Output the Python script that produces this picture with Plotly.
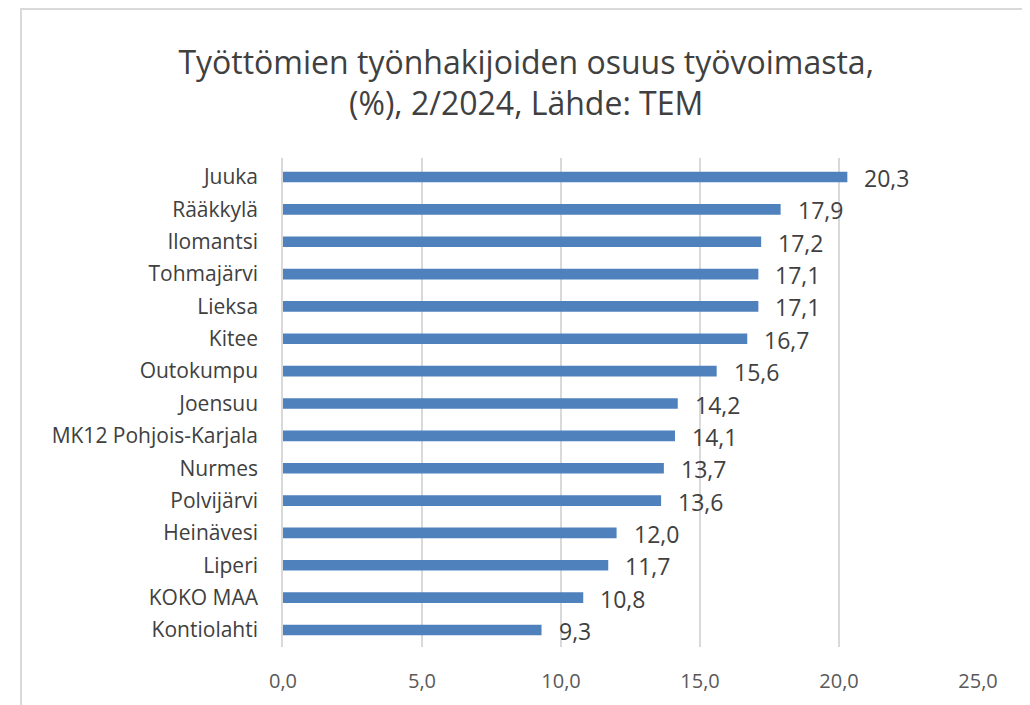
import plotly.graph_objects as go

# data
kunnat = ["Juuka", "Rääkkylä", "Ilomantsi", "Tohmajärvi", "Lieksa", "Kitee",
          "Outokumpu", "Joensuu", "MK12 Pohjois-Karjala", "Nurmes", "Polvijärvi",
          "Heinävesi", "Liperi", "KOKO MAA", "Kontiolahti"]
osuus = [20.3, 17.9, 17.2, 17.1, 17.1, 16.7, 15.6, 14.2, 14.1, 13.7, 13.6,
         12.0, 11.7, 10.8, 9.3]
x_ticks = [0, 5, 10, 15, 20, 25]

FONT = "Open Sans"

fig = go.Figure(go.Bar(
    x=osuus, y=kunnat, orientation="h",
    marker=dict(color="#4f81bd", line=dict(width=0)),
    width=0.33,
    hoverinfo="x+y",
))

# value labels a bit away from bar ends
for k, v in zip(kunnat, osuus):
    fig.add_annotation(
        x=v, y=k, text=f"{v:.1f}".replace(".", ","),
        showarrow=False, xanchor="left", xshift=15, yshift=-1,
        font=dict(family=FONT, size=23, color="#404040"),
    )

# page body has ~8px margin, so the figure starts at (8, 8)
W, H = 1022, 697
L, R, T, B = 275, 52, 150, 58
pw, ph = W - L - R, H - T - B

fig.update_layout(
    width=W, height=H,
    paper_bgcolor="white", plot_bgcolor="white",
    margin=dict(l=L, r=R, t=T, b=B),
    separators=", ",
    title=dict(
        text="Työttömien työnhakijoiden osuus työvoimasta,<br>(%), 2/2024, Lähde: TEM",
        x=0.507, xanchor="center", y=0.906, yanchor="middle",
        font=dict(family=FONT, size=32, color="#404040"),
    ),
    xaxis=dict(
        range=[0, 25], tickvals=x_ticks, tickformat=".1f",
        showgrid=True, gridcolor="#d9d9d9", gridwidth=1.5,
        zeroline=False, showline=False,
        tickfont=dict(family=FONT, size=20, color="#595959"),
        ticks="outside", ticklen=16, tickcolor="white",
    ),
    yaxis=dict(
        autorange="reversed",
        showline=True, linecolor="#d9d9d9", linewidth=1.5,
        showgrid=False,
        tickfont=dict(family=FONT, size=21, color="#404040"),
        ticks="outside", ticklen=19, tickcolor="white",
    ),
    showlegend=False,
)

# chart frame
fig.add_shape(type="rect", xref="paper", yref="paper",
              x0=(13 - L) / pw, x1=(W - 2 - L) / pw,
              y0=-0.3, y1=(T + ph - 1) / ph,
              line=dict(color="#d9d9d9", width=2), layer="below")

fig.write_html("out.html")
